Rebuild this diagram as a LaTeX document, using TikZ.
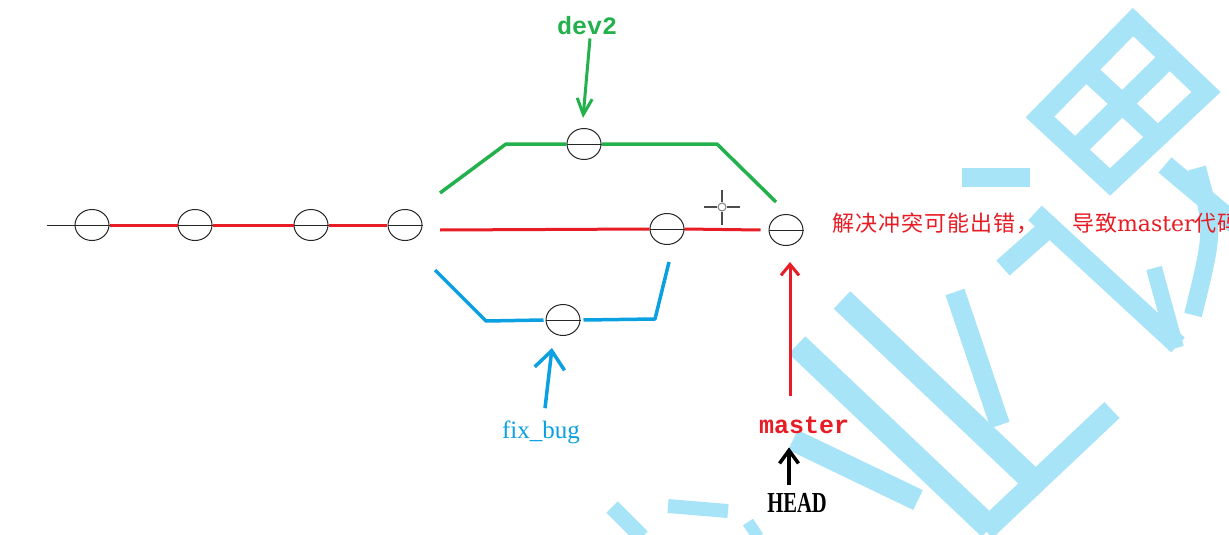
\documentclass[tikz,border=0pt]{standalone}
\usepackage{fontspec}
\usepackage{graphicx}
\setmainfont{Liberation Serif}
\newfontfamily\cjk[LetterSpace=5]{Noto Sans CJK SC}
\newfontfamily\monof{Liberation Mono}
\newfontfamily\dvs{DejaVu Serif}
\usetikzlibrary{shapes.geometric,arrows.meta}
\definecolor{pred}{RGB}{232,28,36}
\definecolor{pgreen}{RGB}{34,177,76}
\definecolor{pblue}{RGB}{10,160,225}
\definecolor{wm}{RGB}{168,228,248}
\begin{document}
\begin{tikzpicture}[x=1pt,y=-1pt,
  commit/.style={ellipse,draw=black!85,line width=1pt,minimum width=34pt,minimum height=31pt,inner sep=0pt},
  diam/.style={draw=black!85,line width=1pt},
  redl/.style={draw=pred,line width=3pt},
  greenl/.style={draw=pgreen,line width=3.5pt,line join=round},
  bluel/.style={draw=pblue,line width=3.5pt,line join=round},
  wmark/.style={draw=wm,line width=22pt},
  lbl/.style={inner sep=0pt,anchor=base},
]
\useasboundingbox (0,0) rectangle (1229,535);
\fill[white] (0,0) rectangle (1229,535);

% watermark strokes
\fill[wm] (962,168) rectangle (1030,187);
\draw[wmark,line width=20pt,line join=miter] (1133,22) -- (1206,92) -- (1110,182) -- (1040,117) -- cycle;
\draw[wmark,line width=20pt] (1086,70) -- (1158,137);
\draw[wmark,line width=20pt] (1170,57) -- (1075,150);
\draw[wmark,line width=20pt] (1165,165) -- (1240,228);
\draw[wmark,line width=20pt] (1035,213) -- (1178,345);
\draw[wmark,line width=20pt] (1003,268) -- (1055,222);
\draw[wmark,line width=16pt] (1154,268) -- (1176,348);
\draw[wmark,line width=18pt] (1197,168) .. controls (1214,230) .. (1193,315);
\draw[wmark,line width=24pt] (842,300) -- (1030,478);
\draw[wmark,line width=24pt] (797,345) -- (990,528);
\draw[wmark,line width=22pt] (793,440) -- (918,500);
\draw[wmark,line width=22pt] (985,530) -- (1112,410);
\draw[wmark,line width=20pt] (955,292) -- (1000,425);
\draw[wmark,line width=16pt] (612,507) -- (642,537);
\draw[wmark,line width=14pt] (668,506) -- (728,511);
\draw[wmark,line width=12pt] (748,522) -- (758,537);

% cursor
\draw[black!70,line width=1.8pt] (704,207) -- (717,207) (727,207) -- (740,207)
  (722,190) -- (722,202) (722,212) -- (722,225);
\draw[black!50,line width=1pt] (722,207) circle (4pt);

% commits
\node[commit] (c1) at (92,225) {};
\node[commit] (c2) at (195,225) {};
\node[commit] (c3) at (311,225) {};
\node[commit] (c4) at (405,225) {};
\node[commit] (cd) at (584,144) {};
\node[commit] (c8) at (667,229) {};
\node[commit] (c9) at (786,230) {};
\node[commit] (cf) at (563,320) {};
\foreach \n in {c1,c2,c3,c4,cd,c8,c9,cf} \draw[diam] (\n.west) -- (\n.east);

\coordinate (s0) at (47,225);
\coordinate (r0) at (440,230);
\coordinate (g0) at (440,193);
\coordinate (g1) at (776,202);
\coordinate (b0) at (435,270);
\coordinate (b1) at (669,262);

\draw[diam] (s0) -- (c1.west);
\draw[redl] (c1.east) -- (c2.west);
\draw[redl] (c2.east) -- (c3.west);
\draw[redl] (c3.east) -- ([xshift=-1pt]c4.west);
\draw[redl] (r0) -- (c8.west);
\draw[redl] (c8.east) -- ([xshift=-8pt]c9.west);
\draw[greenl] (g0) -- (506,144) -- (cd.west);
\draw[greenl] (cd.east) -- (717,144) -- (g1);
\draw[bluel] (b0) -- (486,321) -- ([xshift=-2pt]cf.west);
\draw[bluel] ([xshift=3pt]cf.east) -- (655,319) -- (b1);

% labels
\node[lbl,text=pgreen,font=\monof\bfseries\fontsize{25}{25}\selectfont] (dev2) at (587,35) {dev2};
\node[lbl,text=pblue,font=\fontsize{25}{25}\selectfont] (fix) at (541,438) {fix\_bug};
\node[lbl,text=pred,font=\monof\bfseries\fontsize{25}{25}\selectfont] (master) at (804,433) {master};
\node[lbl,text=black,font=\bfseries\fontsize{29}{29}\selectfont] (head) at (797,512) {\scalebox{0.71}[1]{HEAD}};
\node[inner sep=0pt,anchor=base west,text=pred,font=\cjk\fontsize{22}{22}\selectfont] (note) at (832,231)
  {解决冲突可能出错，\hspace{33pt}导致{\dvs master}代码};

% pointer arrows
\draw[draw=pgreen,line width=3pt,-{Straight Barb[length=16pt,width=15pt]}]
  ([xshift=3pt,yshift=-3pt]dev2.south) -- ([xshift=-1pt,yshift=10pt]cd.north);
\draw[draw=pblue,line width=3.5pt,-{Straight Barb[length=18pt,width=30pt]}]
  ([xshift=4pt,yshift=12pt]fix.north) -- ([xshift=-11pt,yshift=-12pt]cf.south);
\draw[draw=pred,line width=3pt,-{Straight Barb[length=11pt,width=18pt]}]
  ([xshift=-14pt,yshift=20pt]master.north) -- ([xshift=4pt,yshift=-16pt]c9.south);
\draw[draw=black,line width=3.5pt,-{Straight Barb[length=13pt,width=19pt]}]
  ([xshift=-8pt,yshift=8pt]head.north) -- ([xshift=-15pt,yshift=-14pt]master.south);
\end{tikzpicture}
\end{document}
